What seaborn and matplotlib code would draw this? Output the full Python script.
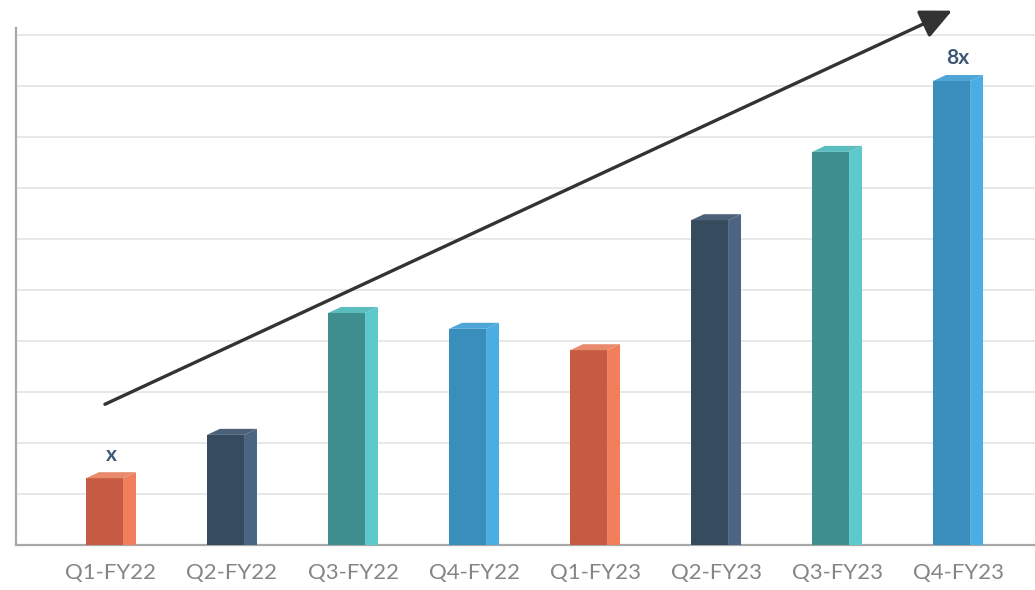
import matplotlib
matplotlib.use("Agg")
import matplotlib.pyplot as plt
from matplotlib.patches import Polygon
import seaborn as sns
import pandas as pd

# Quarterly growth, shown as relative bar heights
quarters = ["Q1-FY22", "Q2-FY22", "Q3-FY22", "Q4-FY22",
            "Q1-FY23", "Q2-FY23", "Q3-FY23", "Q4-FY23"]
values = [1.31, 2.16, 4.55, 4.24, 3.82, 6.37, 7.71, 9.10]
value_labels = {0: "x", 7: "8x"}

# Face colours for each bar: front, side, top
front_colors = ["#C65B44", "#364B5D", "#3F8F8F", "#3A8EBB",
                "#C65B44", "#364B5D", "#3F8F8F", "#3A8EBB"]
side_colors = ["#F17F5B", "#4B6583", "#5CCACC", "#4AAEE2",
               "#F17F5B", "#4B6583", "#5CCACC", "#4AAEE2"]
top_colors = ["#E98A6C", "#4A6178", "#5BBDBE", "#4EA5D6",
              "#E98A6C", "#4A6178", "#5BBDBE", "#4EA5D6"]

df = pd.DataFrame({"quarter": quarters, "value": values})

sns.set_theme(style="white")
plt.rcParams["font.family"] = ["Lato", "DejaVu Sans"]

fig = plt.figure(figsize=(10.35, 5.9), dpi=100)
ax = fig.add_axes([16 / 1035, 45 / 590, 1019 / 1035, 517 / 590])

front_w = 0.306   # width of the front face
depth_x = 0.107   # horizontal depth of the side face
depth_y = 0.118   # vertical rise of the top face

sns.barplot(data=df, x="quarter", y="value", hue="quarter",
            palette=front_colors, width=front_w, legend=False,
            saturation=1, ax=ax, zorder=3, linewidth=0)

for patch in list(ax.patches):
    cx = patch.get_x() + patch.get_width() / 2
    i = int(round(cx))
    patch.set_x(patch.get_x() - depth_x / 2)
    l = patch.get_x()
    r = l + patch.get_width()
    h = patch.get_height()
    side = Polygon([(r, 0), (r + depth_x, 0), (r + depth_x, h + depth_y), (r, h)],
                   closed=True, facecolor=side_colors[i], edgecolor="none", zorder=3)
    top = Polygon([(l, h), (l + depth_x, h + depth_y), (r + depth_x, h + depth_y), (r, h)],
                  closed=True, facecolor=top_colors[i], edgecolor="none", zorder=3)
    ax.add_patch(side)
    ax.add_patch(top)
    if i in value_labels:
        ax.text(i, h + 0.46, value_labels[i], ha="center", va="center",
                fontsize=15, fontweight="bold", color="#3D5875", zorder=4)

# Trend arrow across the chart
ax.annotate("", xy=(6.95, 10.48), xytext=(-0.05, 2.76),
            arrowprops=dict(arrowstyle="-|>,head_length=1.6,head_width=0.75",
                            color="#333333", lw=2.4, shrinkA=0, shrinkB=0),
            annotation_clip=False, zorder=5)

ax.set_xlim(-0.785, 7.636)
ax.set_ylim(0, 10.14)
ax.set_yticks(range(1, 11))
ax.set_yticklabels([])
ax.yaxis.grid(True, color="#E2E2E2", linewidth=1.1)
ax.set_axisbelow(True)
ax.tick_params(axis="y", length=0)
ax.tick_params(axis="x", length=0, pad=13, labelsize=16, labelcolor="#858585")
ax.set_xlabel("")
ax.set_ylabel("")
for s in ["top", "right"]:
    ax.spines[s].set_visible(False)
for s in ["left", "bottom"]:
    ax.spines[s].set_color("#A8A8A8")
    ax.spines[s].set_linewidth(1.6)

fig.savefig("out.png", dpi=100)
